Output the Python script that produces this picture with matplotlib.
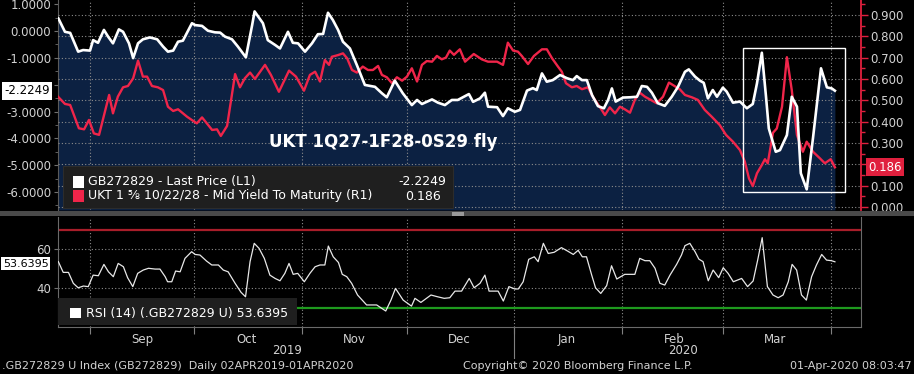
import numpy as np
import pandas as pd
import matplotlib
matplotlib.use("Agg")
import matplotlib.pyplot as plt
import matplotlib.dates as mdates
import matplotlib.transforms as mtrans
from matplotlib.patches import Rectangle
from matplotlib.ticker import FuncFormatter, MultipleLocator

# ---- data (x values are days counted from 2019-09-01) ----
start_date = pd.Timestamp("2019-09-01")

fly_days = [-9.1, -7.2, -5.7, -3.4, -2.0, 0.0, 0.9, 2.3, 4.0, 5.2,
            6.6, 8.3, 9.5, 11.2, 12.4, 13.8, 15.2, 17.2, 19.3, 21.0,
            22.4, 23.9, 25.3, 26.7, 29.3, 30.2, 32.2, 33.9, 35.9, 37.4,
            38.8, 40.8, 42.5, 44.8, 46.6, 47.3, 49.7, 51.1, 53.2, 54.6,
            56.9, 58.3, 59.8, 61.8, 63.8, 65.5, 67.0, 68.4, 69.8, 71.3,
            72.7, 74.7, 76.7, 79.0, 81.9, 83.9, 85.3, 87.6, 89.9, 92.5,
            94.0, 95.4, 98.3, 100.0, 102.0, 104.0, 105.7, 108.9, 110.1, 112.1,
            113.5, 114.4, 117.0, 118.7, 120.1, 122.1, 123.6, 125.6, 127.3, 128.4,
            129.9, 131.3, 133.0, 135.1, 137.1, 138.8, 139.9, 141.4, 142.8, 144.3,
            146.0, 147.7, 148.9, 150.0, 151.1, 153.2, 155.2, 157.2, 158.6, 160.1,
            161.5, 163.2, 165.2, 167.2, 169.0, 171.0, 172.1, 173.9, 175.3, 176.4,
            177.6, 179.0, 180.2, 181.9, 183.0, 184.8, 186.8, 188.8, 190.5, 191.7,
            193.1, 194.3, 195.1, 197.1, 198.3, 200.3, 201.7, 203.2, 204.3, 206.0,
            207.8, 210.1, 211.8, 213.2, 214.1]
fly_price = [0.47, -0.03, -0.07, -0.77, -0.71, -0.73, -0.34, -0.44, 0.04, -0.21,
             -0.46, 0.06, -0.03, -0.46, -1.01, -0.46, -0.31, -0.24, -0.31, -0.58,
             -0.77, -0.73, -0.40, -0.36, 0.29, 0.22, 0.19, 0.01, -0.05, -0.06,
             -0.21, -0.31, -0.58, -0.98, 0.22, 0.73, 0.29, -0.34, -0.52, -0.65,
             -0.03, -0.44, -0.46, -0.77, -0.46, -0.12, -0.11, 0.68, 0.41, 0.04,
             -0.40, -0.65, -1.27, -2.01, -2.08, -2.32, -2.47, -1.85, -2.32, -2.76,
             -2.57, -2.72, -2.55, -2.67, -2.76, -2.57, -2.57, -2.35, -2.64, -2.51,
             -2.30, -2.82, -2.84, -3.17, -2.88, -3.01, -2.94, -2.22, -2.13, -2.20,
             -1.58, -1.89, -1.83, -1.64, -1.76, -1.83, -1.68, -1.83, -1.83, -2.39,
             -2.80, -2.88, -2.57, -2.14, -2.63, -2.48, -2.47, -2.45, -2.05, -2.08,
             -2.30, -2.69, -2.79, -2.45, -2.08, -1.52, -1.43, -1.70, -1.85, -1.93,
             -2.51, -2.20, -2.45, -2.11, -2.26, -2.67, -2.63, -2.88, -2.72, -1.95,
             -0.81, -2.45, -3.63, -4.50, -4.44, -3.88, -2.45, -2.82, -5.30, -5.90,
             -3.99, -1.39, -2.10, -2.14, -2.2249]

yld_days = [-9.2, -7.2, -5.7, -3.2, -1.7, -0.3, 1.1, 2.6, 5.5, 6.6,
            8.0, 9.5, 10.9, 12.4, 13.8, 15.2, 16.4, 17.8, 19.5, 21.0,
            22.4, 23.9, 25.3, 27.9, 30.7, 32.2, 35.1, 36.5, 37.6, 39.4,
            41.7, 43.1, 44.5, 46.0, 47.4, 50.3, 52.0, 54.3, 57.2, 59.2,
            61.5, 63.2, 64.7, 66.1, 67.5, 68.7, 69.5, 71.3, 72.7, 73.9,
            75.3, 76.7, 78.4, 79.9, 81.3, 82.8, 83.9, 85.3, 86.8, 88.2,
            89.7, 91.1, 92.5, 94.0, 95.4, 96.8, 98.3, 99.7, 101.1, 102.3,
            103.4, 104.6, 106.3, 107.8, 110.3, 112.6, 114.4, 117.0, 118.7, 120.1,
            121.6, 123.0, 124.1, 125.9, 127.6, 129.9, 131.3, 132.8, 134.5, 135.6,
            136.8, 138.5, 139.9, 141.4, 143.1, 144.5, 146.6, 148.0, 149.4, 150.9,
            152.3, 153.7, 155.2, 156.6, 158.0, 159.5, 162.9, 164.7, 166.4, 167.5,
            169.5, 171.0, 173.0, 174.7, 176.7, 178.7, 181.0, 182.8, 184.8, 186.8,
            188.2, 189.4, 190.5, 191.7, 193.1, 194.0, 194.8, 196.3, 197.4, 198.9,
            200.3, 201.7, 203.2, 204.9, 206.0, 207.8, 209.8, 211.2, 212.9, 214.1]
yld_vals = [0.517, 0.483, 0.478, 0.369, 0.364, 0.408, 0.345, 0.338, 0.525, 0.439,
            0.517, 0.561, 0.567, 0.603, 0.686, 0.611, 0.611, 0.567, 0.561, 0.548,
            0.470, 0.450, 0.458, 0.423, 0.392, 0.420, 0.361, 0.364, 0.333, 0.380,
            0.623, 0.561, 0.603, 0.630, 0.600, 0.666, 0.619, 0.540, 0.639, 0.611,
            0.545, 0.619, 0.634, 0.588, 0.689, 0.666, 0.704, 0.712, 0.720, 0.697,
            0.642, 0.630, 0.658, 0.642, 0.642, 0.661, 0.619, 0.608, 0.580, 0.608,
            0.592, 0.611, 0.650, 0.588, 0.666, 0.684, 0.681, 0.708, 0.692, 0.700,
            0.733, 0.713, 0.739, 0.681, 0.717, 0.692, 0.681, 0.681, 0.666, 0.770,
            0.733, 0.728, 0.708, 0.670, 0.708, 0.739, 0.739, 0.697, 0.658, 0.634,
            0.580, 0.561, 0.567, 0.552, 0.561, 0.517, 0.467, 0.431, 0.467, 0.439,
            0.470, 0.458, 0.442, 0.502, 0.536, 0.517, 0.486, 0.517, 0.583, 0.572,
            0.552, 0.525, 0.514, 0.502, 0.455, 0.423, 0.384, 0.338, 0.306, 0.267,
            0.213, 0.134, 0.098, 0.158, 0.197, 0.224, 0.205, 0.348, 0.368, 0.470,
            0.702, 0.548, 0.337, 0.259, 0.306, 0.259, 0.228, 0.205, 0.224, 0.186]

rsi_days = [-9.1, -7.7, -6.2, -4.8, -3.4, -1.9, -0.5, 0.9, 2.4, 4.0,
            5.3, 6.7, 8.1, 9.6, 10.8, 12.3, 13.7, 15.3, 16.8, 18.7,
            20.1, 21.6, 22.3, 23.5, 24.6, 25.9, 27.3, 29.2, 30.2, 31.6,
            33.5, 35.0, 36.9, 38.3, 39.7, 41.7, 43.4, 44.7, 46.0, 47.2,
            48.6, 50.1, 51.7, 53.2, 54.6, 56.0, 57.2, 58.4, 59.7, 61.6,
            63.2, 64.7, 66.1, 67.5, 68.5, 69.9, 71.4, 72.5, 73.8, 75.2,
            76.9, 79.5, 82.4, 85.0, 86.5, 87.8, 90.0, 92.4, 93.4, 95.1,
            98.0, 99.9, 101.8, 103.4, 104.9, 106.8, 109.0, 110.4, 112.1, 113.5,
            114.7, 117.3, 118.8, 120.4, 122.1, 123.1, 124.5, 126.1, 127.7, 128.8,
            130.3, 131.7, 133.4, 135.5, 137.3, 138.9, 140.3, 141.5, 142.7, 144.2,
            145.3, 146.8, 148.5, 149.9, 151.4, 153.7, 156.6, 158.0, 159.5, 160.9,
            162.4, 163.8, 165.2, 166.7, 168.6, 170.0, 171.0, 172.4, 173.9, 175.0,
            176.2, 177.7, 179.1, 180.7, 182.0, 183.4, 184.9, 187.3, 189.0, 190.6,
            191.9, 193.2, 194.7, 196.3, 197.8, 199.2, 200.7, 201.8, 203.1, 204.5,
            205.9, 207.4, 208.8, 210.3, 211.7, 213.1, 214.1]
rsi_vals = [53.7, 48.2, 48.2, 42.6, 40.3, 41.2, 40.9, 46.8, 46.5, 52.3,
            48.5, 46.0, 52.8, 51.1, 45.5, 40.9, 47.7, 49.4, 50.3, 49.9,
            49.9, 46.0, 43.4, 43.4, 48.9, 48.5, 55.4, 58.8, 57.4, 57.1,
            54.0, 52.0, 52.0, 49.4, 48.5, 42.6, 38.0, 35.7, 53.7, 63.1,
            60.5, 55.4, 46.8, 45.1, 43.9, 47.7, 52.8, 47.2, 47.7, 43.4,
            47.7, 51.1, 52.0, 52.0, 61.7, 56.2, 53.3, 47.2, 46.0, 42.6,
            36.6, 31.5, 31.5, 28.4, 34.0, 40.0, 34.0, 30.9, 34.9, 32.8,
            36.6, 35.7, 34.9, 35.2, 38.6, 38.6, 45.1, 40.3, 42.6, 46.8,
            38.6, 38.6, 33.5, 40.9, 39.7, 39.7, 43.4, 54.9, 56.2, 53.7,
            63.1, 57.9, 58.5, 60.9, 59.1, 57.4, 59.5, 56.2, 56.2, 46.8,
            40.3, 37.4, 41.4, 51.6, 44.8, 47.2, 47.2, 55.4, 54.2, 54.2,
            50.3, 42.6, 41.7, 46.8, 52.3, 57.1, 61.9, 63.1, 58.8, 55.0,
            53.7, 43.9, 49.4, 45.5, 50.6, 47.7, 43.4, 45.1, 40.9, 43.8,
            54.5, 66.0, 40.9, 36.6, 35.2, 36.6, 43.4, 52.3, 49.4, 36.6,
            34.0, 46.0, 52.0, 57.4, 54.5, 54.2, 53.6395]

month_names = ["Sep", "Oct", "Nov", "Dec", "Jan", "Feb", "Mar"]
last_price = -2.2249
last_yield = 0.186
last_rsi = 53.6395

def to_dates(days):
    return start_date + pd.to_timedelta(np.array(days), unit="D")

fly_x = to_dates(fly_days)
yld_x = to_dates(yld_days)
rsi_x = to_dates(rsi_days)
x_lo = start_date - pd.Timedelta(days=9.2)
x_hi = start_date + pd.Timedelta(days=221.6)
month_starts = pd.date_range("2019-09-01", "2020-04-01", freq="MS")
month_mids = month_starts[:-1] + pd.Timedelta(days=15)

# ---- colours ----
NAVY = "#0c2142"
RED = "#f0254a"
AXRED = "#e0203e"
GRID = "#8c8c8c"
TXT = "#d2d2d2"

W, H = 914, 374
def fx(px):
    return px / W
def fy(py):
    return 1 - py / H

plt.rcParams["font.family"] = ["DejaVu Sans"]
fig = plt.figure(figsize=(W / 100, H / 100), dpi=100, facecolor="black")

# ---- top panel ----
left_lo, left_hi = -6.67, 1.155
ax = fig.add_axes([fx(58), fy(210), fx(861) - fx(58), fy(0) - fy(210)])
ax.set_facecolor("black")
ax.fill_between(fly_x, fly_price, left_lo, color=NAVY, lw=0)
ax.set_xlim(x_lo, x_hi)
ax.set_ylim(left_lo, left_hi)
ax.set_yticks(range(-6, 2))
# the -2 label sits under the last-value tag
ax.yaxis.set_major_formatter(FuncFormatter(lambda v, p: "" if round(v) == -2 else f"{v:.4f}"))
ax.yaxis.set_minor_locator(MultipleLocator(0.5))
ax.tick_params(axis="y", colors="#707070", labelcolor=TXT, labelsize=8.5,
               length=3, pad=2)
ax.tick_params(axis="y", which="minor", colors="#707070", length=2)
ax.tick_params(axis="x", bottom=False, labelbottom=False)
for s in ["top", "right", "bottom"]:
    ax.spines[s].set_visible(False)
ax.spines["left"].set_color("#5a5a5a")

ax2 = ax.twinx()
ax2.set_ylim(-0.014, 0.970)
ax2.set_yticks(np.arange(0, 0.91, 0.1))
ax2.yaxis.set_major_formatter(FuncFormatter(lambda v, p: "" if abs(v - 0.2) < 0.01 else f"{v:.3f}"))
ax2.yaxis.set_minor_locator(MultipleLocator(0.05))
ax2.yaxis.grid(True, ls=(0, (1, 2)), color=GRID, lw=0.8)
for m in month_starts:
    ax2.axvline(m, ls=(0, (1, 2)), color=GRID, lw=0.8, zorder=1)
ax2.plot(yld_x, yld_vals, color=RED, lw=1.7, zorder=3)
for s in ["top", "left", "bottom"]:
    ax2.spines[s].set_visible(False)
ax2.spines["right"].set_color(AXRED)
ax2.spines["right"].set_linewidth(1.3)
ax2.tick_params(axis="y", colors=AXRED, labelcolor=TXT, labelsize=8.5,
                length=5, width=1, pad=2)
ax2.tick_params(axis="y", which="minor", colors=AXRED, length=3, width=1)

# highlight box around March
box_start = start_date + pd.Timedelta(days=187.6)
ax2.add_patch(Rectangle((mdates.date2num(box_start), 0.070), 29.4, 0.675,
                        fill=False, ec="white", lw=1.0, zorder=4))

ax3 = ax.twinx()
ax3.set_ylim(left_lo, left_hi)
ax3.plot(fly_x, fly_price, color="white", lw=1.9)
ax3.set_axis_off()

fig.text(fx(383), fy(142), "UKT 1Q27-1F28-0S29 fly", ha="center", va="center",
         color="white", fontsize=12, fontweight="bold", zorder=6)

# legend of top panel
fig.patches.append(Rectangle((fx(63), fy(208)), fx(453) - fx(63), fy(166) - fy(208),
                             transform=fig.transFigure, fc="#1f1f1f", ec="#2c2c2c",
                             lw=0.8, zorder=5))
fig.patches.append(Rectangle((fx(73), fy(188)), fx(11), fy(176) - fy(188),
                             transform=fig.transFigure, fc="white", ec="none", zorder=6))
fig.patches.append(Rectangle((fx(73), fy(202)), fx(11), fy(190) - fy(202),
                             transform=fig.transFigure, fc=RED, ec="none", zorder=6))
fig.text(fx(88), fy(182), "GB272829 - Last Price (L1)", color="white", fontsize=9,
         va="center", zorder=7)
fig.text(fx(88), fy(196), "UKT 1 \u215d 10/22/28 - Mid Yield To Maturity (R1)",
         color="white", fontsize=9, va="center", zorder=7)
fig.text(fx(446), fy(182), f"{last_price:.4f}", color="white", fontsize=9,
         va="center", ha="right", zorder=7)
fig.text(fx(405), fy(196), f"{last_yield:.3f}", color="white", fontsize=9,
         va="center", ha="left", zorder=7)

# last value tags
tr_left = mtrans.blended_transform_factory(fig.transFigure, ax.transData)
fig.text(fx(4), last_price, f"{last_price:.4f}", transform=tr_left, color="black",
         fontsize=8.5, va="center", ha="left", zorder=8,
         bbox=dict(boxstyle="square,pad=0.2", fc="white", ec="none"))
tr_right = mtrans.blended_transform_factory(fig.transFigure, ax2.transData)
fig.text(fx(868), last_yield, f"{last_yield:.3f}", transform=tr_right, color="white",
         fontsize=8.5, va="center", ha="left", zorder=8,
         bbox=dict(boxstyle="square,pad=0.2", fc=AXRED, ec="none"))

# separator between panels
fig.patches.append(Rectangle((0, fy(216)), 1, fy(211) - fy(216),
                             transform=fig.transFigure, fc="#4a4a4a", ec="none", zorder=2))
fig.patches.append(Rectangle((fx(452), fy(216)), fx(12), fy(212) - fy(216),
                             transform=fig.transFigure, fc="#9a9a9a", ec="none", zorder=3))

# ---- bottom panel (RSI) ----
axb = fig.add_axes([fx(58), fy(327), fx(861) - fx(58), fy(217) - fy(327)])
axb.set_facecolor("black")
axb.set_xlim(x_lo, x_hi)
axb.set_ylim(20.2, 76.6)
axb.axhline(70, color="#a81e2a", lw=1.6)
axb.axhline(30, color="#1e9a1e", lw=1.6)
axb.set_yticks([40, 60])
axb.yaxis.grid(True, ls=(0, (1, 2)), color=GRID, lw=0.8)
for m in month_starts:
    axb.axvline(m, ls=(0, (1, 2)), color=GRID, lw=0.8, zorder=1)
axb.plot(rsi_x, rsi_vals, color="#e8e8e8", lw=0.9, zorder=3)
axb.set_xticks(month_starts)
axb.set_xticks(month_mids, minor=True)
axb.set_xticklabels([])
axb.set_xticklabels(month_names, minor=True)
axb.tick_params(axis="x", which="major", colors="#808080", length=5)
axb.tick_params(axis="x", which="minor", length=0, labelcolor=TXT, labelsize=8.5, pad=4)
axb.tick_params(axis="y", colors="#707070", labelcolor=TXT, labelsize=8.5, length=3, pad=2)
axb.spines["top"].set_visible(False)
for s in ["left", "bottom", "right"]:
    axb.spines[s].set_color("#6a6a6a")
axb.axvline(pd.Timestamp("2020-01-01"), ymin=-0.28, ymax=0, clip_on=False,
            color="#808080", lw=0.8)

fig.patches.append(Rectangle((fx(58), fy(325)), fx(297) - fx(58), fy(298) - fy(325),
                             transform=fig.transFigure, fc="#1f1f1f", ec="none", zorder=5))
fig.patches.append(Rectangle((fx(70), fy(318)), fx(11), fy(308) - fy(318),
                             transform=fig.transFigure, fc="white", ec="none", zorder=6))
fig.text(fx(86), fy(313), f"RSI (14) (.GB272829 U) {last_rsi:.4f}", color="white",
         fontsize=9, va="center", zorder=7)
tr_rsi = mtrans.blended_transform_factory(fig.transFigure, axb.transData)
fig.text(fx(3), last_rsi - 1.0, f"{last_rsi:.4f}", transform=tr_rsi, color="black",
         fontsize=8, va="center", ha="left", zorder=8,
         bbox=dict(boxstyle="square,pad=0.15", fc="white", ec="none"))

# year labels and footer
fig.text(fx(287), fy(351), "2019", color=TXT, fontsize=8.5, ha="center", va="center")
fig.text(fx(683), fy(351), "2020", color=TXT, fontsize=8.5, ha="center", va="center")
fig.text(fx(2), fy(366), ".GB272829 U Index (GB272829)  Daily 02APR2019-01APR2020",
         color=TXT, fontsize=8, ha="left", va="center")
fig.text(fx(578), fy(366), "Copyright\u00a9 2020 Bloomberg Finance L.P.",
         color=TXT, fontsize=8, ha="center", va="center")
fig.text(fx(912), fy(366), "01-Apr-2020 08:03:47", color=TXT, fontsize=8,
         ha="right", va="center")

fig.savefig("out.png", dpi=100, facecolor="black")
